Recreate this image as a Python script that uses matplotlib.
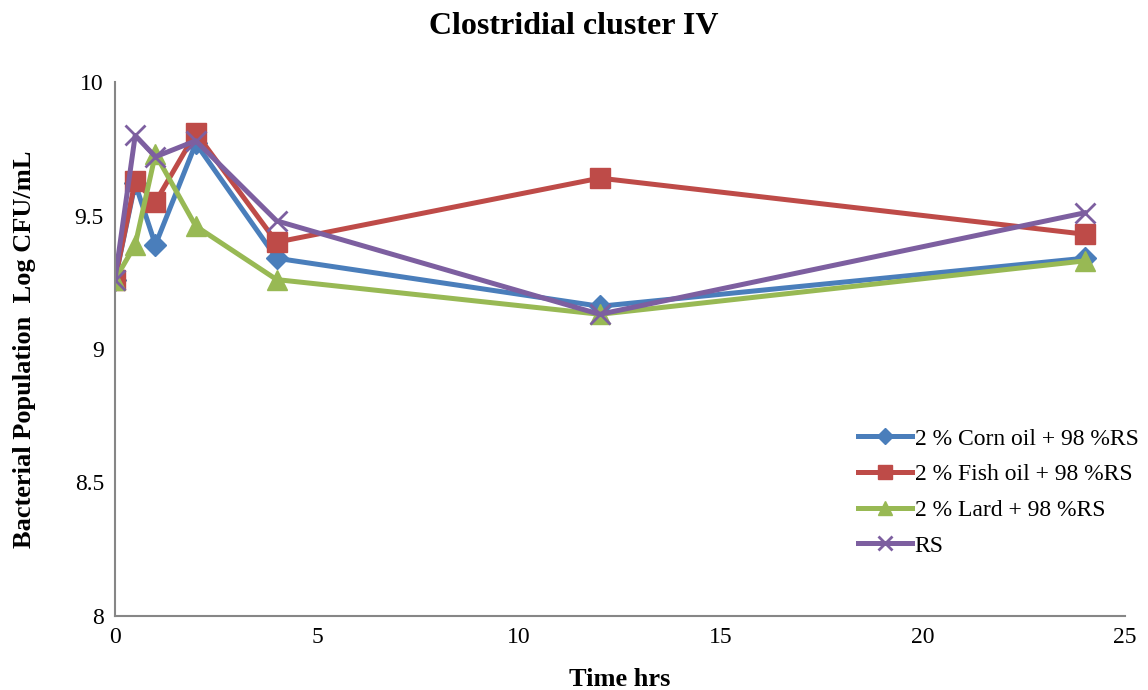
import matplotlib.pyplot as plt

plt.rcParams['font.family'] = ['Liberation Serif', 'DejaVu Serif']

hours = [0, 0.5, 1, 2, 4, 12, 24]
corn = [9.26, 9.62, 9.39, 9.77, 9.34, 9.16, 9.34]
fish = [9.26, 9.63, 9.55, 9.81, 9.40, 9.64, 9.43]
lard = [9.26, 9.39, 9.73, 9.46, 9.26, 9.13, 9.33]
rs = [9.26, 9.80, 9.72, 9.78, 9.48, 9.13, 9.51]

labels = ['2 % Corn oil + 98 %RS', '2 % Fish oil + 98 %RS', '2 % Lard + 98 %RS', 'RS']
colors = ['#4A7EBB', '#BE4B48', '#98B954', '#7D5FA0']

fig = plt.figure(figsize=(11.48, 6.9), dpi=100)
ax = fig.add_axes([115 / 1148, 74 / 690, 1010 / 1148, 534 / 690])

ax.plot(hours, corn, marker='D', color=colors[0], lw=3.6, markersize=11, label=labels[0])
ax.plot(hours, fish, marker='s', color=colors[1], lw=3.6, markersize=14, label=labels[1])
ax.plot(hours, lard, marker='^', color=colors[2], lw=3.6, markersize=14, label=labels[2])
ax.plot(hours, rs, marker='x', color=colors[3], lw=3.6, markersize=14, markeredgewidth=2, label=labels[3])

ax.set_xlim(0, 25)
ax.set_ylim(8, 10)
ax.set_xticks([0, 5, 10, 15, 20, 25])
ax.set_yticks([8, 8.5, 9, 9.5, 10])
ax.set_yticklabels(['8', '8.5', '9', '9.5', '10'])
ax.tick_params(length=0, labelsize=17, pad=8)
for s in ['top', 'right']:
    ax.spines[s].set_visible(False)
for s in ['left', 'bottom']:
    ax.spines[s].set_color('#868686')
    ax.spines[s].set_linewidth(1.5)

fig.text(0.5, 1 - 27 / 690, 'Clostridial cluster IV', fontsize=23, fontweight='bold',
         ha='center', va='center')
ax.set_xlabel('Time hrs', fontsize=19, fontweight='bold', labelpad=14)
ax.set_ylabel('Bacterial Population  Log CFU/mL', fontsize=19, fontweight='bold', labelpad=28)

ax.legend(loc='upper left', bbox_to_anchor=(743 / 1010, (616 - 428) / 534), frameon=False,
          fontsize=17, handlelength=2.3, handletextpad=0.1, labelspacing=0.6,
          borderpad=0, borderaxespad=0, markerscale=0.75)

fig.savefig('out.png')
